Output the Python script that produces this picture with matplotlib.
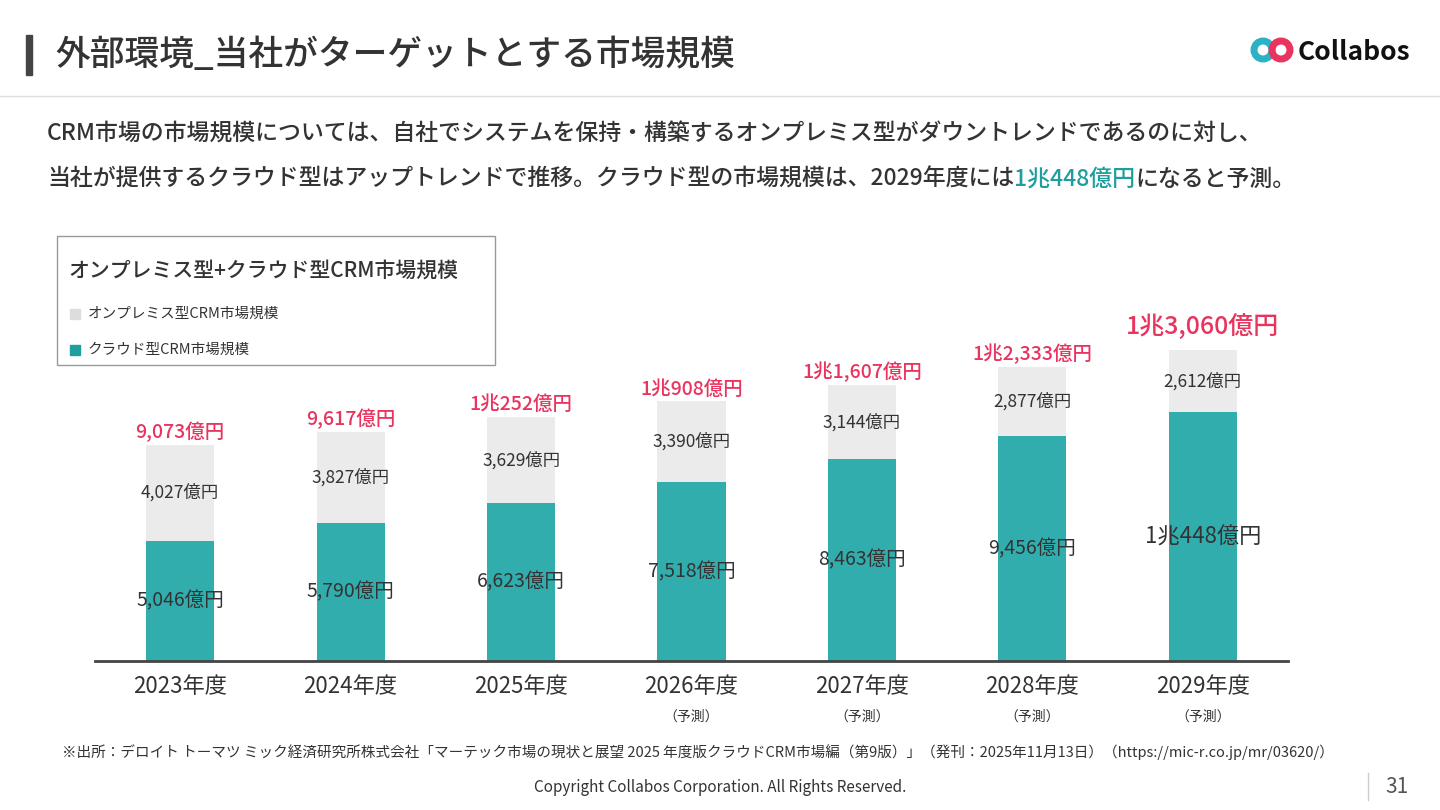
import matplotlib
matplotlib.use("Agg")
import matplotlib.pyplot as plt
from matplotlib.patches import Rectangle, Circle

plt.rcParams['font.family'] = ['Noto Sans CJK JP', 'DejaVu Sans']

years = ["2023年度", "2024年度", "2025年度", "2026年度", "2027年度", "2028年度", "2029年度"]
forecast = [False, False, False, True, True, True, True]
cloud = [5046, 5790, 6623, 7518, 8463, 9456, 10448]
onprem = [4027, 3827, 3629, 3390, 3144, 2877, 2612]
cloud_labels = ["5,046億円", "5,790億円", "6,623億円", "7,518億円", "8,463億円", "9,456億円", "1兆448億円"]
onprem_labels = ["4,027億円", "3,827億円", "3,629億円", "3,390億円", "3,144億円", "2,877億円", "2,612億円"]
total_labels = ["9,073億円", "9,617億円", "1兆252億円", "1兆908億円", "1兆1,607億円", "1兆2,333億円", "1兆3,060億円"]

TEAL = "#31ADAD"
GRAY = "#EBEBEB"
RED = "#E8345F"
TXT = "#333333"

W, H = 1440, 810
fig = plt.figure(figsize=(14.4, 8.1), dpi=100)
fig.patch.set_facecolor("white")

def fx(x): return x / W
def fy(y): return 1 - y / H

# header
fig.patches.append(Rectangle((fx(26), fy(75)), fx(6), 40 / H, transform=fig.transFigure, color="#444444"))
fig.text(fx(55), fy(55), "外部環境_当社がターゲットとする市場規模", fontsize=25, color=TXT, va="center", weight="medium")
fig.lines.append(plt.Line2D([0, 1], [fy(96), fy(96)], transform=fig.transFigure, color="#DDDDDD", lw=1))
# logo
ax_logo = fig.add_axes([fx(1250), fy(64), fx(46), 28 / H])
ax_logo.set_xlim(0, 46); ax_logo.set_ylim(0, 28); ax_logo.axis("off"); ax_logo.set_aspect("equal")
ax_logo.add_patch(Circle((13, 14), 9, fill=False, ec="#2BB3C4", lw=5))
ax_logo.add_patch(Circle((31, 14), 9, fill=False, ec="#E8345F", lw=5))
fig.text(fx(1298), fy(52), "Collabos", fontsize=19, weight="bold", color="#111111", va="center")

# description
FS = 16.5
fig.text(fx(47), fy(134), "CRM市場の市場規模については、自社でシステムを保持・構築するオンプレミス型がダウントレンドであるのに対し、",
         fontsize=FS, color=TXT, va="center", weight="medium")
t = fig.text(fx(47), fy(179), "当社が提供するクラウド型はアップトレンドで推移。クラウド型の市場規模は、2029年度には",
             fontsize=FS, color=TXT, va="center", weight="medium")
fig.canvas.draw()
bb = t.get_window_extent()
t2 = fig.text(bb.x1 / W, fy(179), "1兆448億円", fontsize=FS, color="#1E9E9E", va="center", weight="medium")
fig.canvas.draw()
bb2 = t2.get_window_extent()
fig.text(bb2.x1 / W, fy(179), "になると予測。", fontsize=FS, color=TXT, va="center", weight="medium")

# chart
ax = fig.add_axes([fx(95), fy(661), fx(1288 - 95), 431 / H])
x = list(range(len(years)))
ax.bar(x, cloud, width=0.4, color=TEAL, zorder=2)
ax.bar(x, onprem, width=0.4, bottom=cloud, color=GRAY, zorder=2)
ax.set_xlim(-0.5, 6.5)
ax.set_ylim(0, 18100)
for s in ["top", "right", "left"]:
    ax.spines[s].set_visible(False)
ax.spines["bottom"].set_color("#444444")
ax.spines["bottom"].set_linewidth(2)
ax.set_yticks([])
ax.set_xticks(x)
ax.set_xticklabels(years, fontsize=16, color=TXT)
ax.tick_params(axis="x", length=0, pad=10)
for i in x:
    tot = cloud[i] + onprem[i]
    ax.text(i, cloud[i] / 2, cloud_labels[i], ha="center", va="center", fontsize=14 if i < 6 else 16, color=TXT)
    ax.text(i, cloud[i] + onprem[i] / 2, onprem_labels[i], ha="center", va="center", fontsize=12.5, color=TXT)
    ax.annotate(total_labels[i], (i, tot), xytext=(0, 2 if i < 6 else 7), textcoords="offset points",
                ha="center", va="bottom", fontsize=14 if i < 6 else 18, color=RED, weight="medium")
    if forecast[i]:
        ax.annotate("（予測）", (i, 0), xytext=(0, -40), textcoords="offset points",
                    ha="center", va="center", fontsize=10, color=TXT)

# legend box
fig.patches.append(Rectangle((fx(57), fy(365)), fx(438), 129 / H, transform=fig.transFigure,
                             fill=False, ec="#999999", lw=1))
fig.text(fx(68), fy(271), "オンプレミス型+クラウド型CRM市場規模", fontsize=15, color=TXT, va="center", weight="medium")
fig.patches.append(Rectangle((fx(70), fy(319)), fx(10), 10 / H, transform=fig.transFigure, color="#DDDDDD"))
fig.text(fx(88), fy(314), "オンプレミス型CRM市場規模", fontsize=10.5, color=TXT, va="center")
fig.patches.append(Rectangle((fx(70), fy(355)), fx(10), 10 / H, transform=fig.transFigure, color="#1E9E9E"))
fig.text(fx(88), fy(350), "クラウド型CRM市場規模", fontsize=10.5, color=TXT, va="center")

# footer
fig.text(fx(62), fy(752), "※出所：デロイト トーマツ ミック経済研究所株式会社「マーテック市場の現状と展望 2025 年度版クラウドCRM市場編（第9版）」（発刊：2025年11月13日）（https://mic-r.co.jp/mr/03620/）",
         fontsize=10.5, color=TXT, va="center")
fig.text(0.5, fy(787), "Copyright Collabos Corporation. All Rights Reserved.", fontsize=11, color=TXT, ha="center", va="center")
fig.lines.append(plt.Line2D([fx(1368), fx(1368)], [fy(800), fy(773)], transform=fig.transFigure, color="#CCCCCC", lw=1))
fig.text(fx(1397), fy(787), "31", fontsize=15, color="#555555", ha="center", va="center")

fig.savefig("out.png", dpi=100)
